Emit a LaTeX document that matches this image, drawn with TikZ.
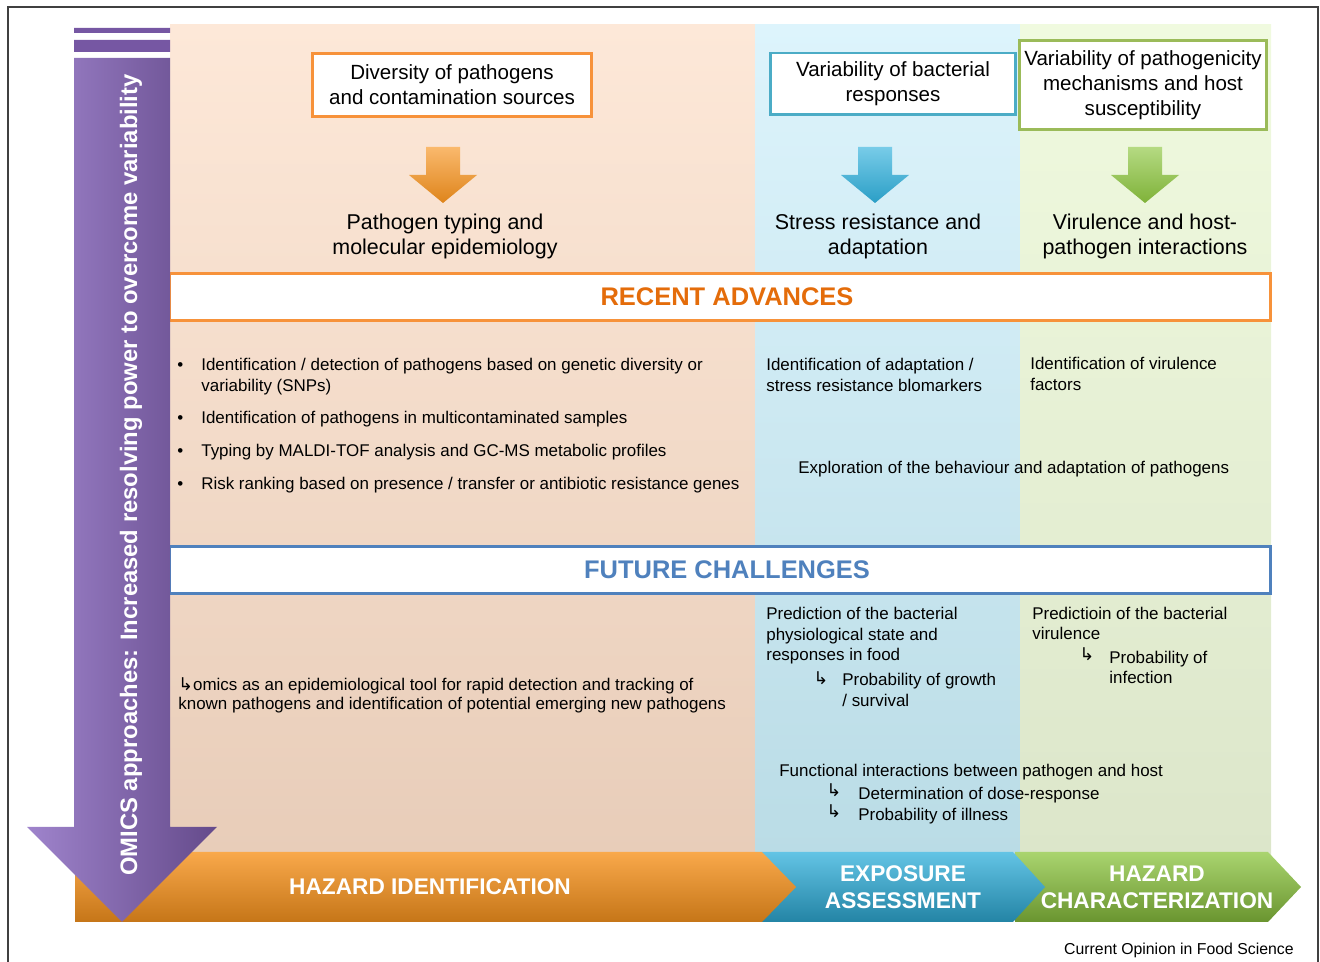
\documentclass[tikz,border=0pt]{standalone}
\usepackage{fontspec}
\setmainfont{Liberation Sans}
\newfontfamily\dejavu{DejaVu Sans}
\usetikzlibrary{positioning}

\definecolor{peachA}{HTML}{FDE8D8}
\definecolor{peachB}{HTML}{FCD8BC}
\definecolor{peachC}{HTML}{E8CDB9}
\definecolor{skyA}{HTML}{DDF4FC}
\definecolor{skyB}{HTML}{C2EDFB}
\definecolor{skyC}{HTML}{BADCE6}
\definecolor{limeA}{HTML}{F0FADF}
\definecolor{limeB}{HTML}{E6F8CD}
\definecolor{limeC}{HTML}{DCE6CA}
\definecolor{hzOrange}{HTML}{F7923A}
\definecolor{hzBlue}{HTML}{4BACC6}
\definecolor{hzGreen}{HTML}{9BBB59}
\definecolor{arrOrange}{HTML}{F7931E}
\definecolor{arrBlue}{HTML}{2FB0DC}
\definecolor{arrGreen}{HTML}{8DC63F}
\definecolor{advOrange}{HTML}{E46C0A}
\definecolor{chBlue}{HTML}{4F81BD}
\definecolor{omicsPurple}{HTML}{7657A3}
\definecolor{omicsLight}{HTML}{9F84CC}

\newcommand\fsz[2]{\fontsize{#1}{#2}\selectfont}
\newcommand\hookarr{{\dejavu\fsz{10}{10}↳}}
\newcommand\bul{\makebox[0.48cm][l]{\textbullet}}

\begin{document}
\begin{tikzpicture}[x=0.02cm,y=-0.02cm,
  srcbox/.style={draw=#1,line width=1.7pt,fill=white,align=center,
    font=\fsz{11.7}{14.2},inner sep=0pt},
  subtitle/.style={align=center,font=\fsz{12.2}{14.2},inner sep=0pt},
  banner/.style={draw=#1,line width=1.7pt,fill=white,inner sep=0pt,
    font=\bfseries\fsz{14.5}{17},minimum width=22.02cm,minimum height=0.93cm},
  txt/.style={anchor=north west,inner sep=0pt,align=left,font=\fsz{9.65}{11.8}},
  hookmark/.style={inner sep=0pt},
  phase/.style={text=white,align=center,font=\bfseries\fsz{12.9}{15.4},inner sep=0pt}]
  \useasboundingbox (0,0) rectangle (1320,962);
  % frame
  \draw[black!75,line width=1pt] (8,962) -- (8,7) -- (1318,7) -- (1318,962);
  % columns
  \shade[top color=peachA,middle color=peachB,bottom color=peachC] (170,25) rectangle (755,855);
  \shade[top color=skyA,middle color=skyB,bottom color=skyC] (755,25) rectangle (1020,855);
  \shade[top color=limeA,middle color=limeB,bottom color=limeC] (1020,25) rectangle (1271,855);

  % sources of variability
  \node[srcbox=hzOrange,minimum width=5.58cm,minimum height=1.26cm] (divsrc) at (452,85)
    {Diversity of pathogens\\and contamination sources};
  \node[srcbox=hzBlue,minimum width=4.9cm,minimum height=1.24cm] (varbact) at (893,84)
    {Variability of bacterial\\responses};
  \node[srcbox=hzGreen,minimum width=4.96cm,minimum height=1.78cm] (varpath) at (1143,85)
    {Variability of pathogenicity\\mechanisms and host\\susceptibility};
  \foreach \cx/\col in {443/arrOrange,875/arrBlue,1145/arrGreen}
    \shade[top color=\col!65!white,bottom color=\col!90!black]
      (\cx-17,147) -- (\cx+17,147) -- (\cx+17,175) -- (\cx+34,175)
      -- (\cx,203) -- (\cx-34,175) -- (\cx-17,175) -- cycle;
  \node[subtitle] (typing) at (445,236) {Pathogen typing and\\molecular epidemiology};
  \node[subtitle] (stress) at (878,236) {Stress resistance and\\adaptation};
  \node[subtitle] (virul) at (1145,236) {Virulence and host-\\pathogen interactions};

  % recent advances
  \node[banner=hzOrange,text=advOrange] (recent) at (720,297) {\hspace{8pt}RECENT ADVANCES};
  \node[txt] (adv1) at (177,358) {\bul Identification / detection of pathogens based on genetic diversity or\\\hspace*{0.48cm}variability (SNPs)};
  \node[txt] (adv2) at (177,411) {\bul Identification of pathogens in multicontaminated samples};
  \node[txt] (adv3) at (177,444) {\bul Typing by MALDI-TOF analysis and GC-MS metabolic profiles};
  \node[txt] (adv4) at (177,477) {\bul Risk ranking based on presence / transfer or antibiotic resistance genes};
  \node[txt] (advbio) at (766,358) {Identification of adaptation /\\stress resistance blomarkers};
  \node[txt] (advvir) at (1030,357) {Identification of virulence\\factors};
  \node[txt] (advexp) at (798,461) {Exploration of the behaviour and adaptation of pathogens};

  % future challenges
  \node[banner=chBlue,text=chBlue] (future) at (720,570) {\hspace{8pt}FUTURE CHALLENGES};
  \node[txt,font=\fsz{9.65}{10.8}] (futomics) at (178,677)
    {\hookarr omics as an epidemiological tool for rapid detection and tracking of\\known pathogens and identification of potential emerging new pathogens};
  \node[txt,font=\fsz{9.65}{11.7}] (futphys) at (766,607)
    {Prediction of the bacterial\\physiological state and\\responses in food};
  \node[hookmark] (hk1) at (821,678) {\hookarr};
  \node[txt,font=\fsz{9.65}{11.7}] (futgrow) at (842,673) {Probability of growth\\/ survival};
  \node[txt,font=\fsz{9.65}{11.4}] (futvir) at (1032,607) {Predictioin of the bacterial\\virulence};
  \node[hookmark] (hk2) at (1087,654) {\hookarr};
  \node[txt,font=\fsz{9.65}{11.4}] (futinf) at (1109,651) {Probability of\\infection};
  \node[txt] (futfun) at (779,764) {Functional interactions between pathogen and host};
  \node[hookmark] (hk3) at (834,790) {\hookarr};
  \node[txt] (futdose) at (858,787) {Determination of dose-response};
  \node[hookmark] (hk4) at (834,811) {\hookarr};
  \node[txt] (futill) at (858,808) {Probability of illness};

  % risk assessment phases
  \shade[top color=arrGreen!75!white,bottom color=arrGreen!75!black]
    (1015,852) -- (1268,852) -- (1301,887) -- (1268,922) -- (1015,922) -- cycle;
  \shade[top color=arrBlue!75!white,bottom color=arrBlue!75!black]
    (762,852) -- (1013,852) -- (1045,887) -- (1013,922) -- (762,922) -- cycle;
  \shade[top color=arrOrange!80!white,bottom color=arrOrange!80!black]
    (75,852) -- (762,852) -- (796,887) -- (762,922) -- (75,922) -- cycle;
  \node[phase] (hazid) at (430,887) {HAZARD IDENTIFICATION};
  \node[phase] (expo) at (903,887) {EXPOSURE\\ASSESSMENT};
  \node[phase] (hazch) at (1157,887) {HAZARD\\CHARACTERIZATION};

  % omics arrow
  \fill[omicsPurple] (74,28) rectangle (170,33) (74,40) rectangle (170,52);
  \shade[left color=omicsLight,right color=omicsPurple!85!black]
    (74,58) -- (170,58) -- (170,827) -- (217,827) -- (122,922) -- (27,827) -- (74,827) -- cycle;
  \node[rotate=90,anchor=base,text=white,font=\bfseries\fsz{13.55}{16},inner sep=0pt] (omics) at (137,475)
    {OMICS approaches: Increased resolving power to overcome variability};

  \node[anchor=north east,inner sep=0pt,font=\fsz{9}{11}] (source) at (1294,943) {Current Opinion in Food Science};
\end{tikzpicture}
\end{document}
